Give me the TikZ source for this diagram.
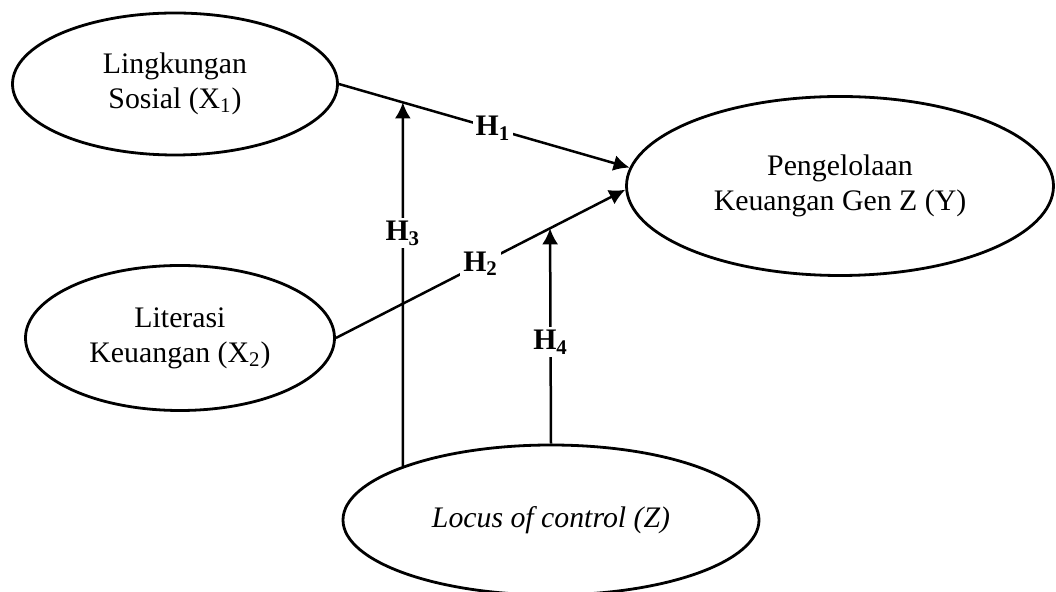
\documentclass[tikz,border=0pt]{standalone}
\usepackage{fontspec}
\setmainfont{Liberation Serif}
\usetikzlibrary{shapes.geometric,arrows.meta,calc}
\begin{document}
\begin{tikzpicture}[x=0.5pt,y=-0.5pt,
  construct/.style={ellipse, draw=black, line width=1.4pt, inner sep=0pt, align=center, font=\fontsize{14.9}{17.5}\selectfont},
  relation/.style={draw=black, line width=1.25pt, -{Latex[length=8pt,width=8pt]}},
  hypo/.style={fill=white, inner sep=1.5pt, font=\fontsize{14.9}{17.5}\selectfont\bfseries}]
  \useasboundingbox (0,0) rectangle (1056,592);
  \node [construct, minimum width=162.5pt, minimum height=71pt] (X1) at (175,84) {Lingkungan\\Sosial (X\textsubscript{1})};
  \node [construct, minimum width=154.5pt, minimum height=72.5pt] (X2) at (180,338) {Literasi\\Keuangan (X\textsubscript{2})};
  \node [construct, minimum width=213.5pt, minimum height=89.5pt] (Y) at (840,186) {Pengelolaan\\Keuangan Gen Z (Y)};
  \node [construct, minimum width=208pt, minimum height=75pt] (Z) at (551,520) {\textit{Locus of control (Z)}};
  \coordinate (m1) at ($(X1.east)!0.22!(Y.175)$);
  \coordinate (m2) at ($(X2.east)!0.74!(Y.181)$);
  \draw [relation] (X1.east) -- (Y.175) node [hypo, pos=0.53] {H\textsubscript{1}};
  \draw [relation] (X2.east) -- (Y.181) node [hypo, pos=0.5] {H\textsubscript{2}};
  \draw [relation] (Z.160) -- (m1) node [hypo, pos=0.64] {H\textsubscript{3}};
  \draw [relation] (Z.north) -- (m2) node [hypo, pos=0.47] {H\textsubscript{4}};
\end{tikzpicture}
\end{document}
